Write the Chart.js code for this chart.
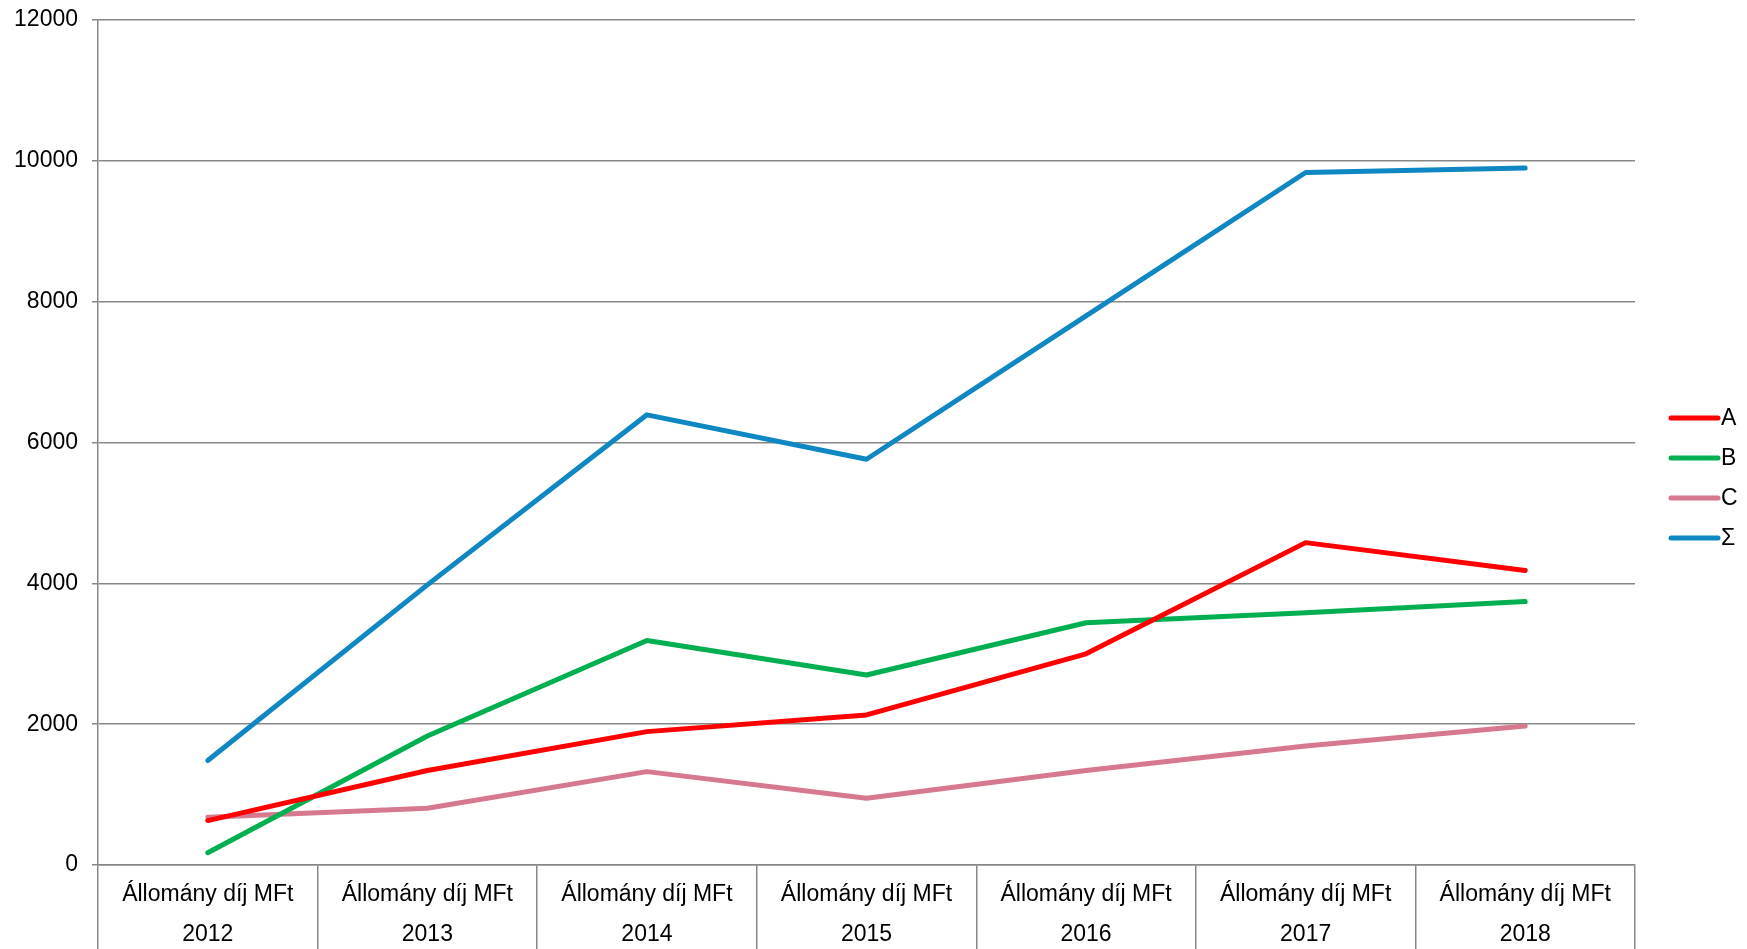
<!DOCTYPE html>
<html>
<head>
<meta charset="utf-8">
<script src="https://cdn.jsdelivr.net/npm/chart.js@4/dist/chart.umd.min.js"></script>
<style>
  html, body { margin: 0; padding: 0; background: #fff; }
  #wrap { width: 1747px; height: 949px; }
</style>
</head>
<body>
<div id="wrap"><canvas id="chart"></canvas></div>
<script>
// chart values
const years = ['2012', '2013', '2014', '2015', '2016', '2017', '2018'];
const rowLabel = 'Állomány díj MFt';
const seriesA = [631, 1342, 1894, 2131, 2999, 4578, 4183];
const seriesB = [174, 1831, 3189, 2699, 3441, 3583, 3741];
const seriesC = [679, 805, 1326, 947, 1342, 1689, 1973];
const seriesSum = [1484, 3978, 6393, 5762, 7798, 9834, 9897];

const axisGray = '#878787';
const fontFamily = '"Liberation Sans", Arial, sans-serif';

function line(label, data, color) {
    return {
        label: label,
        data: data,
        borderColor: color,
        backgroundColor: color,
        borderWidth: 5,
        borderCapStyle: 'round',
        borderJoinStyle: 'round',
        pointRadius: 0,
        pointHoverRadius: 0,
        tension: 0,
        fill: false
    };
}

// right-hand legend: short line + label, stacked around the canvas middle
const sideLegend = {
    id: 'sideLegend',
    afterDraw(chart) {
        const c = chart.ctx;
        const sets = chart.data.datasets;
        const step = 40;
        const x0 = chart.chartArea.right + 36;
        const y0 = chart.height / 2 - step * (sets.length - 1) / 2 + 3.5;
        c.save();
        c.font = '23px ' + fontFamily;
        c.textBaseline = 'middle';
        c.fillStyle = '#000';
        sets.forEach((ds, i) => {
            const y = y0 + i * step;
            c.strokeStyle = ds.borderColor;
            c.lineWidth = 5;
            c.lineCap = 'round';
            c.beginPath();
            c.moveTo(x0, y);
            c.lineTo(x0 + 47, y);
            c.stroke();
            c.fillText(ds.label, x0 + 50, y + 1);
        });
        c.restore();
    }
};

const ctx = document.getElementById('chart').getContext('2d');
new Chart(ctx, {
    type: 'line',
    data: {
        labels: years.map(y => [rowLabel, y]),
        datasets: [
            line('A', seriesA, '#FF0000'),
            line('B', seriesB, '#00B050'),
            line('C', seriesC, '#D6798F'),
            line('Σ', seriesSum, '#0F87C3')
        ]
    },
    options: {
        responsive: true,
        maintainAspectRatio: false,
        animation: false,
        layout: { padding: { top: 20, right: 112, bottom: 0, left: 0 } },
        plugins: {
            legend: { display: false },
            tooltip: { enabled: false }
        },
        scales: {
            x: {
                offset: true,
                afterFit: scale => { scale.height = 84; },
                border: { display: true, color: axisGray, width: 1.5 },
                grid: {
                    offset: true,
                    drawOnChartArea: false,
                    drawTicks: true,
                    tickLength: 84,
                    color: axisGray,
                    lineWidth: 1.5
                },
                ticks: {
                    padding: -74,
                    autoSkip: false,
                    maxRotation: 0,
                    color: '#000',
                    font: { family: fontFamily, size: 23, lineHeight: 1.74 }
                }
            },
            y: {
                min: 0,
                max: 12000,
                afterFit: scale => {
                    scale.width = 98;
                    scale.paddingTop = 0;
                    scale.paddingBottom = 0;
                },
                border: { display: true, color: axisGray, width: 1.5 },
                grid: {
                    color: axisGray,
                    lineWidth: 1.5,
                    drawTicks: true,
                    tickLength: 6
                },
                ticks: {
                    stepSize: 2000,
                    padding: 14,
                    color: '#000',
                    font: { family: fontFamily, size: 23 },
                    callback: value => String(value)
                }
            }
        }
    },
    plugins: [sideLegend]
});
</script>
</body>
</html>
